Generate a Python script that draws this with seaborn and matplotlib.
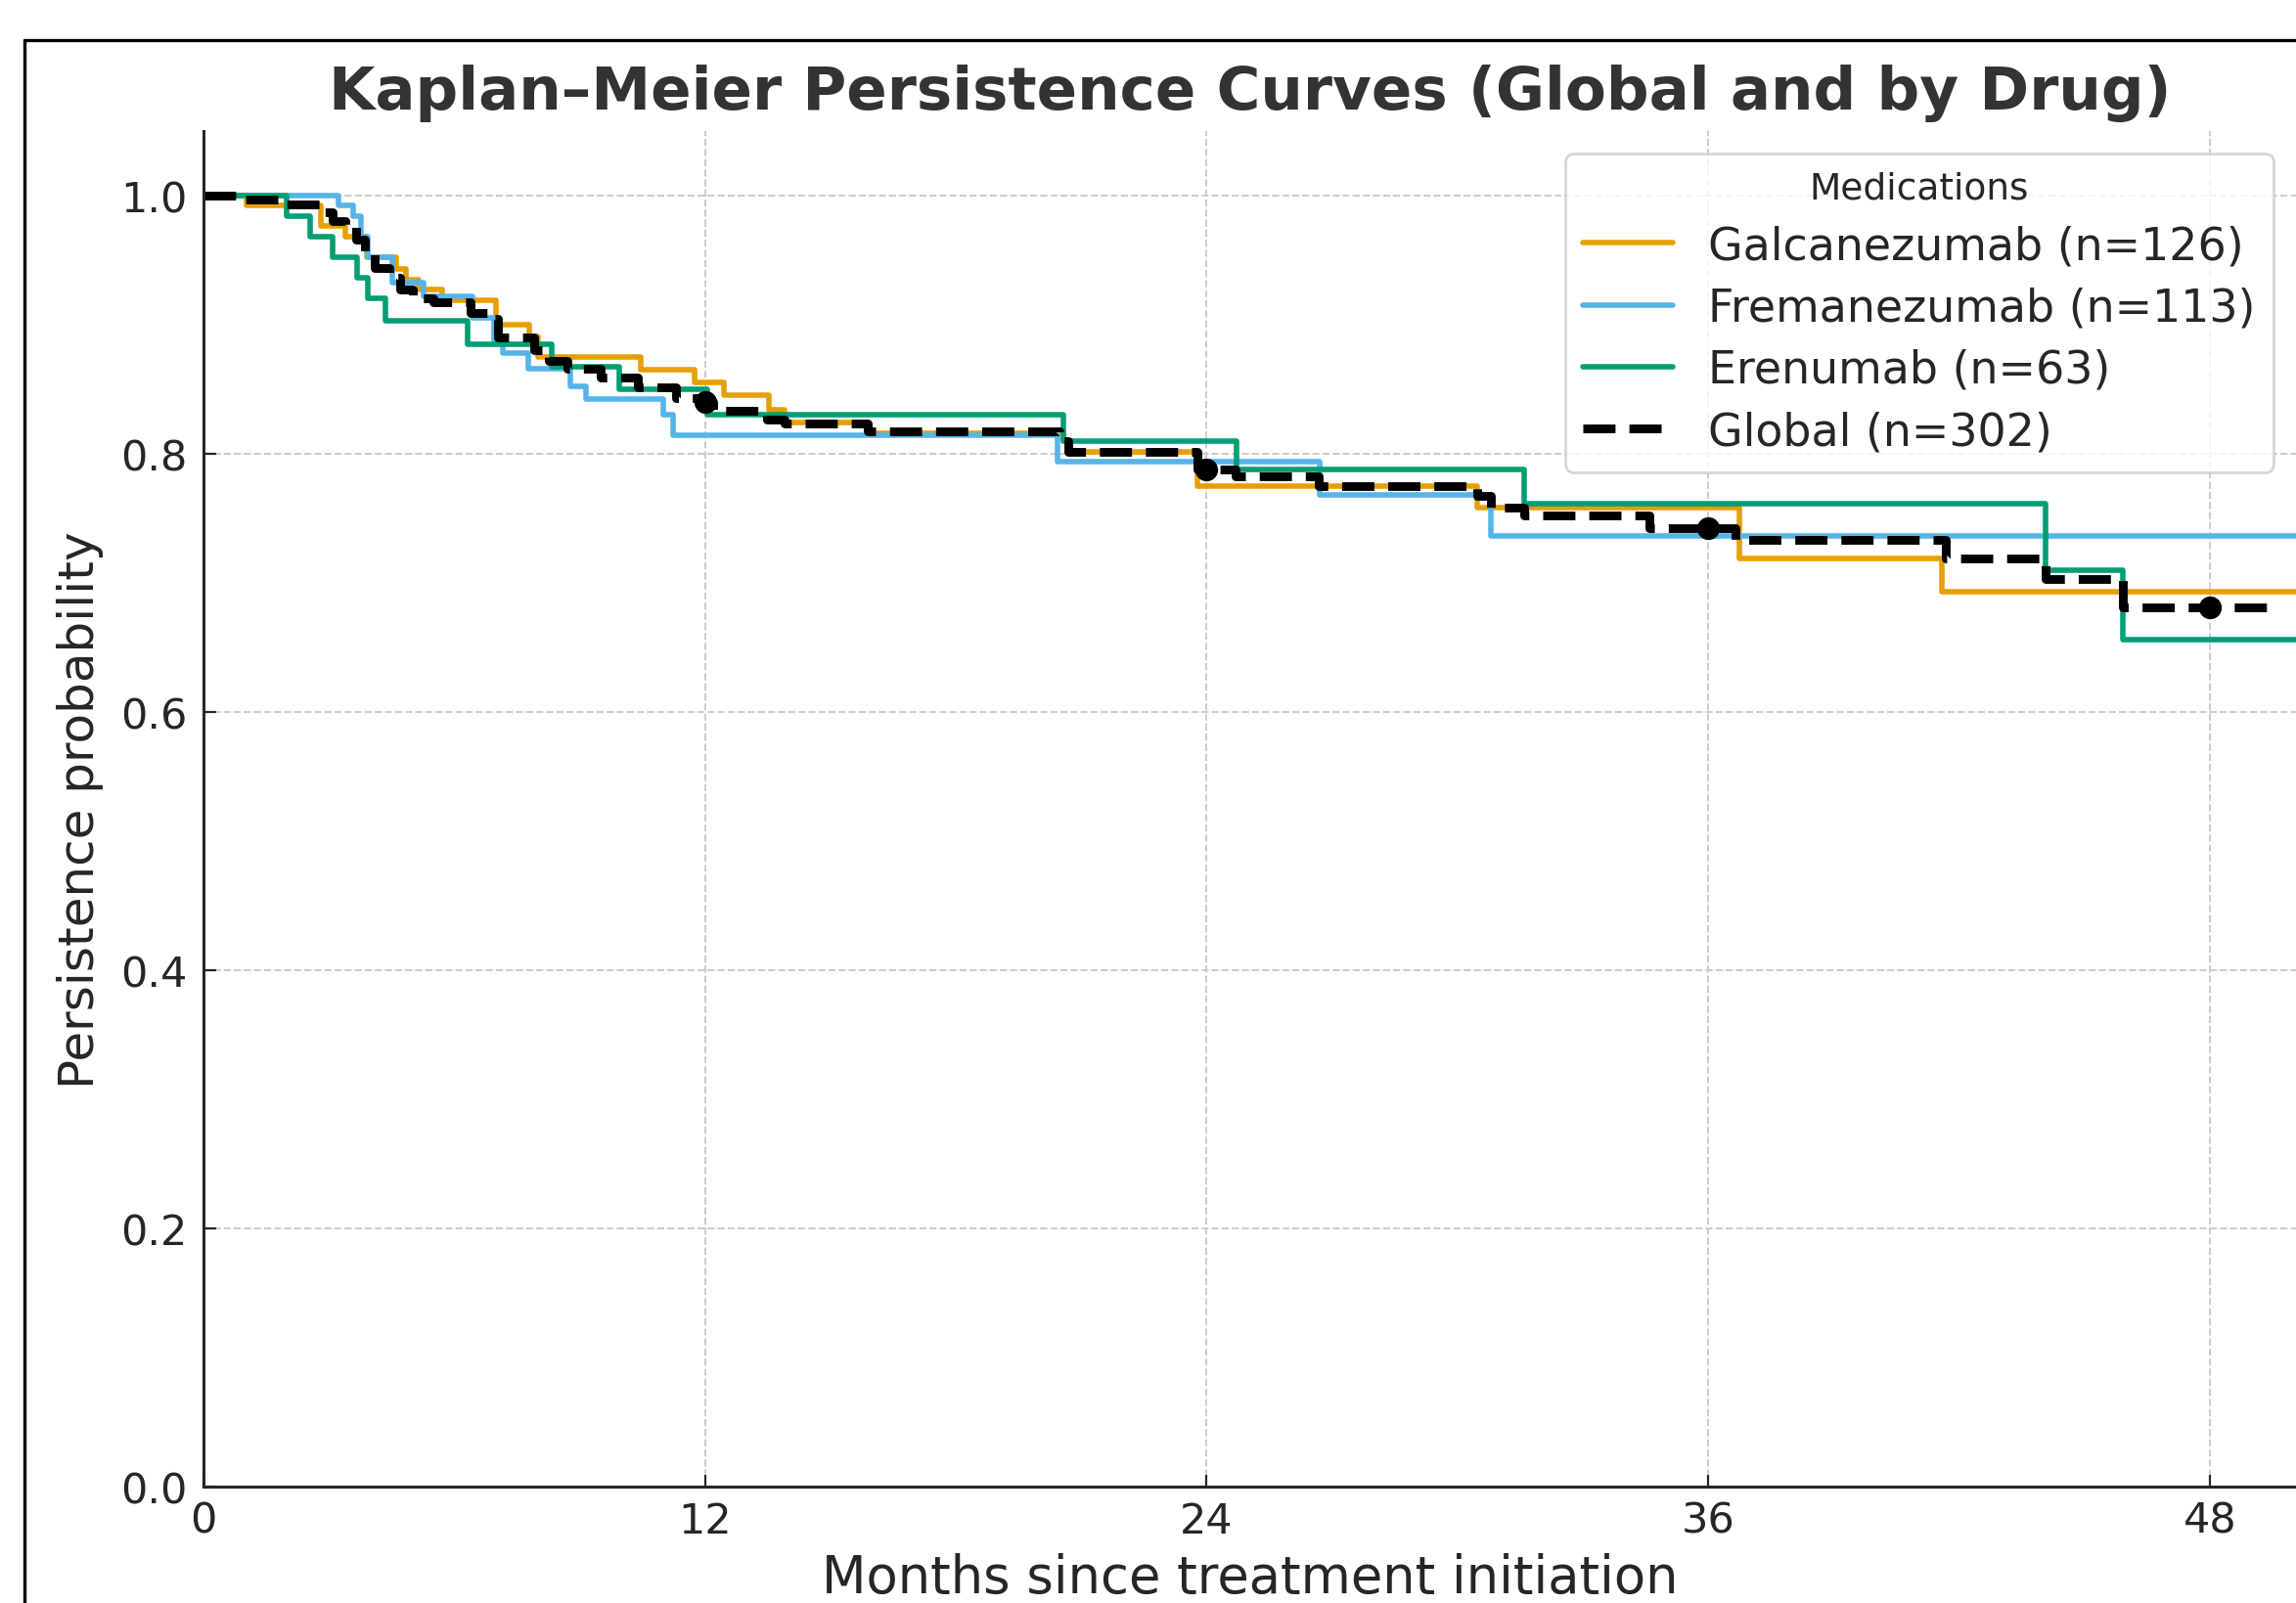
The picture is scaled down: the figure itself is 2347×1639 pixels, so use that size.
import numpy as np
import pandas as pd
import seaborn as sns
import matplotlib.pyplot as plt
from matplotlib.lines import Line2D

# step curves: month of each drop, persistence after it
galca_t = [0, 1.04, 2.8, 3.4, 3.9, 4.6, 4.85, 5.15, 5.7, 7.0, 7.8, 8.0, 10.45, 11.74,
           12.45, 13.53, 13.89, 15.9, 20.56, 20.73, 23.78, 30.47, 36.74, 41.59, 50.1]
galca_s = [1.0, 0.992, 0.976, 0.968, 0.952, 0.943, 0.935, 0.927, 0.919, 0.900, 0.891, 0.875,
           0.865, 0.855, 0.845, 0.834, 0.824, 0.816, 0.810, 0.801, 0.775, 0.758, 0.719, 0.693, 0.693]

frema_t = [0, 3.22, 3.59, 3.76, 3.93, 4.51, 5.27, 6.44, 6.95, 7.15, 7.77, 8.78, 9.15,
           11.0, 11.24, 20.43, 26.71, 30.79, 50.1]
frema_s = [1.0, 0.992, 0.984, 0.968, 0.952, 0.932, 0.922, 0.905, 0.888, 0.878, 0.866, 0.852,
           0.842, 0.830, 0.814, 0.794, 0.768, 0.736, 0.736]

erenu_t = [0, 2.0, 2.55, 3.09, 3.68, 3.93, 4.35, 6.33, 8.32, 9.95, 12.05, 20.56, 24.72,
           31.6, 44.07, 45.91, 50.1]
erenu_s = [1.0, 0.984, 0.968, 0.952, 0.936, 0.920, 0.903, 0.885, 0.867, 0.850, 0.830, 0.810,
           0.788, 0.761, 0.710, 0.656, 0.656]

glob_t = [0, 0.83, 1.95, 2.85, 3.1, 3.4, 3.65, 3.85, 4.1, 4.45, 4.7, 5.0, 5.5, 6.4, 6.85,
          7.05, 7.9, 8.27, 8.7, 9.5, 10.4, 11.3, 11.95, 12.2, 13.48, 13.9, 15.9, 20.47, 20.7,
          23.78, 24.7, 26.67, 30.47, 30.8, 31.6, 34.6, 36.66, 41.67, 44.07, 45.91, 49.6]
glob_s = [1.0, 0.997, 0.993, 0.987, 0.980, 0.976, 0.966, 0.956, 0.944, 0.936, 0.927, 0.920,
          0.917, 0.909, 0.904, 0.890, 0.880, 0.872, 0.866, 0.859, 0.851, 0.843, 0.840, 0.833,
          0.826, 0.823, 0.817, 0.810, 0.801, 0.788, 0.782, 0.775, 0.767, 0.758, 0.752, 0.742,
          0.733, 0.719, 0.703, 0.681, 0.681]

milestones = [12, 24, 36, 48]
milestone_s = [0.840, 0.788, 0.742, 0.681]

curves = [
    ("Galcanezumab (n=126)", galca_t, galca_s, "#E69F00"),
    ("Fremanezumab (n=113)", frema_t, frema_s, "#56B4E9"),
    ("Erenumab (n=63)", erenu_t, erenu_s, "#009E73"),
]

sns.set_theme(style="ticks")
plt.rcParams['font.family'] = ['DejaVu Sans']
plt.rcParams['text.color'] = '#262626'

fig = plt.figure(figsize=(11.735, 8.2), dpi=200)
ax = fig.add_axes([208 / 2347, 1 - 1520.8 / 1640, 1 - 208 / 2347, (1520.8 - 134.7) / 1640])

for name, t, s, col in curves:
    df = pd.DataFrame({'month': t, 'surv': s})
    sns.lineplot(data=df, x='month', y='surv', ax=ax, color=col, lw=2.0,
                 drawstyle='steps-post', estimator=None, label=name)

gdf = pd.DataFrame({'month': glob_t, 'surv': glob_s})
sns.lineplot(data=gdf, x='month', y='surv', ax=ax, color='black', lw=3.2,
             linestyle='--', drawstyle='steps-post', estimator=None, label='Global (n=302)')
sns.scatterplot(x=milestones, y=milestone_s, ax=ax, color='black', s=60,
                edgecolor='black', zorder=6, legend=False)

ax.set_xlim(0, 50.06)
ax.set_ylim(0, 1.05)
ax.set_xticks([0, 12, 24, 36, 48])
ax.set_yticks([0.0, 0.2, 0.4, 0.6, 0.8, 1.0])
ax.set_yticklabels(['0.0', '0.2', '0.4', '0.6', '0.8', '1.0'])
ax.tick_params(direction='in', length=4.5, width=0.8, pad=6, labelsize=15.5,
               colors='#262626')
ax.tick_params(axis='x', pad=5)
ax.grid(True, linestyle='--', color='#cccccc', linewidth=0.7)
sns.despine(ax=ax)
for sp in ['left', 'bottom']:
    ax.spines[sp].set_color('#262626')
    ax.spines[sp].set_linewidth(1.1)

ax.set_title('Kaplan–Meier Persistence Curves (Global and by Drug)', fontsize=22,
             fontweight='bold', color='#333333', pad=8)
ax.set_xlabel('Months since treatment initiation', fontsize=19, labelpad=4)
ax.set_ylabel('Persistence probability', fontsize=18, labelpad=6)

leg = ax.legend(title='Medications', loc='upper right', fontsize=16.5, title_fontsize=13.5,
                frameon=True, framealpha=0.8, edgecolor='#cccccc', labelspacing=0.4)

# border of the screenshot frame
y_top = 1 - 42 / 1640
x_left = 25 / 2347
fig.add_artist(Line2D([x_left, 1], [y_top, y_top], color='black', lw=1.2))
fig.add_artist(Line2D([x_left, x_left], [0, y_top], color='black', lw=1.2))

fig.savefig('out.png', dpi=200)
